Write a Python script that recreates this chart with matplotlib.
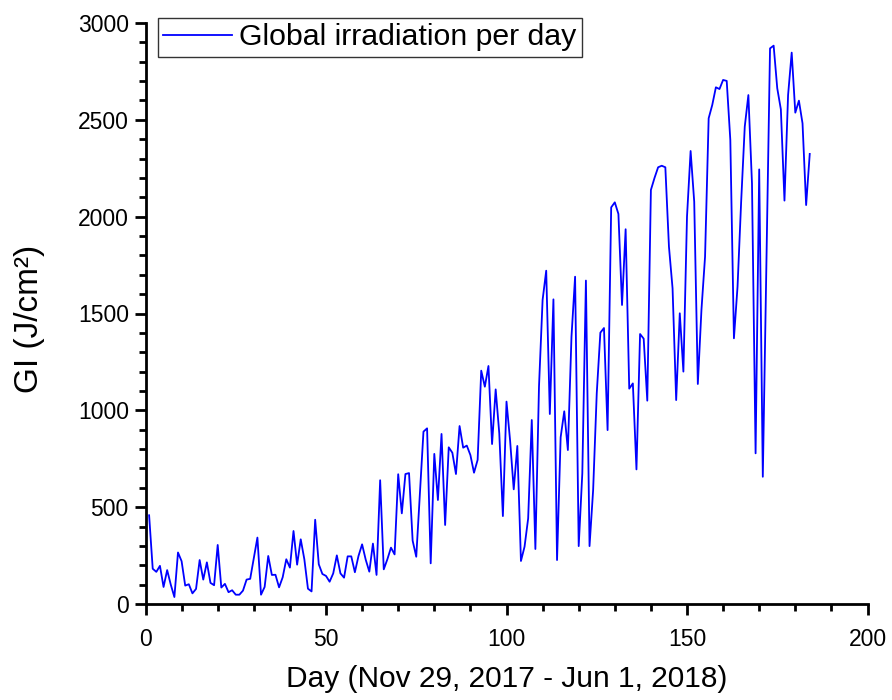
import matplotlib
matplotlib.use("Agg")
import matplotlib.pyplot as plt
from matplotlib.ticker import MultipleLocator
import numpy as np

plt.rcParams["font.family"] = ["Liberation Sans", "DejaVu Sans"]

# daily global irradiation, J/cm2
days = np.arange(1, 185)
gi = [
    458, 182, 166, 197, 88, 175, 100, 36, 266, 221,
    95, 102, 55, 78, 227, 126, 215, 109, 97, 305,
    85, 104, 61, 71, 48, 48, 69, 126, 130, 237,
    343, 48, 88, 248, 150, 151, 86, 138, 231, 188,
    377, 203, 334, 231, 79, 65, 435, 205, 155, 145,
    115, 158, 251, 158, 136, 246, 246, 164, 248, 308,
    229, 167, 312, 150, 639, 179, 231, 291, 256, 670,
    468, 671, 676, 327, 244, 571, 890, 907, 210, 775,
    537, 878, 408, 809, 781, 671, 919, 807, 818, 769,
    678, 744, 1205, 1122, 1229, 826, 1108, 881, 454, 1045,
    843, 592, 816, 222, 296, 442, 950, 284, 1122, 1570,
    1721, 981, 1573, 227, 861, 995, 795, 1380, 1690, 299,
    675, 1670, 299, 589, 1088, 1401, 1425, 898, 2048, 2074,
    2014, 1544, 1935, 1112, 1139, 695, 1394, 1370, 1050, 2138,
    2200, 2255, 2263, 2255, 1845, 1630, 1053, 1501, 1200, 2000,
    2339, 2077, 1136, 1518, 1793, 2508, 2577, 2668, 2659, 2706,
    2701, 2396, 1372, 1639, 2077, 2465, 2628, 2172, 778, 2244,
    657, 1760, 2869, 2883, 2663, 2554, 2083, 2628, 2847, 2537,
    2599, 2482, 2060, 2324,
]

W, H = 892, 700
fig = plt.figure(figsize=(W / 100, H / 100), dpi=100)
x0, x1, y0, y1 = 145.5, 867.5, 604, 23
ax = fig.add_axes([x0 / W, 1 - y0 / H, (x1 - x0) / W, (y0 - y1) / H])

ax.plot(days, gi, color="#0000ff", lw=1.3, label="Global irradiation per day")

ax.set_xlim(0, 200)
ax.set_ylim(0, 3000)
ax.xaxis.set_major_locator(MultipleLocator(50))
ax.xaxis.set_minor_locator(MultipleLocator(10))
ax.yaxis.set_major_locator(MultipleLocator(500))
ax.yaxis.set_minor_locator(MultipleLocator(100))

for side in ["top", "right"]:
    ax.spines[side].set_visible(False)
for side in ["left", "bottom"]:
    ax.spines[side].set_linewidth(2.0)

ax.tick_params(which="major", direction="out", length=8, width=2, labelsize=16.5)
ax.tick_params(axis="x", which="major", pad=9)
ax.tick_params(axis="y", which="major", pad=4)
ax.tick_params(which="minor", direction="out", length=5, width=2)

ax.set_xlabel("Day (Nov 29, 2017 - Jun 1, 2018)", fontsize=21.5)
ax.set_ylabel("GI (J/cm²)", fontsize=24)
ax.xaxis.set_label_coords(0.5, -0.105)
ax.yaxis.set_label_coords(-0.139, 0.49)

leg = ax.legend(loc="upper left", fontsize=21.8, frameon=True, fancybox=False,
                handlelength=2.25, handletextpad=0.25, borderpad=0.18,
                borderaxespad=0, bbox_to_anchor=(158 / W, 1 - 18 / H),
                bbox_transform=fig.transFigure)
leg.get_frame().set_edgecolor("black")
leg.get_frame().set_linewidth(1.0)

fig.savefig("out.png", dpi=100)
